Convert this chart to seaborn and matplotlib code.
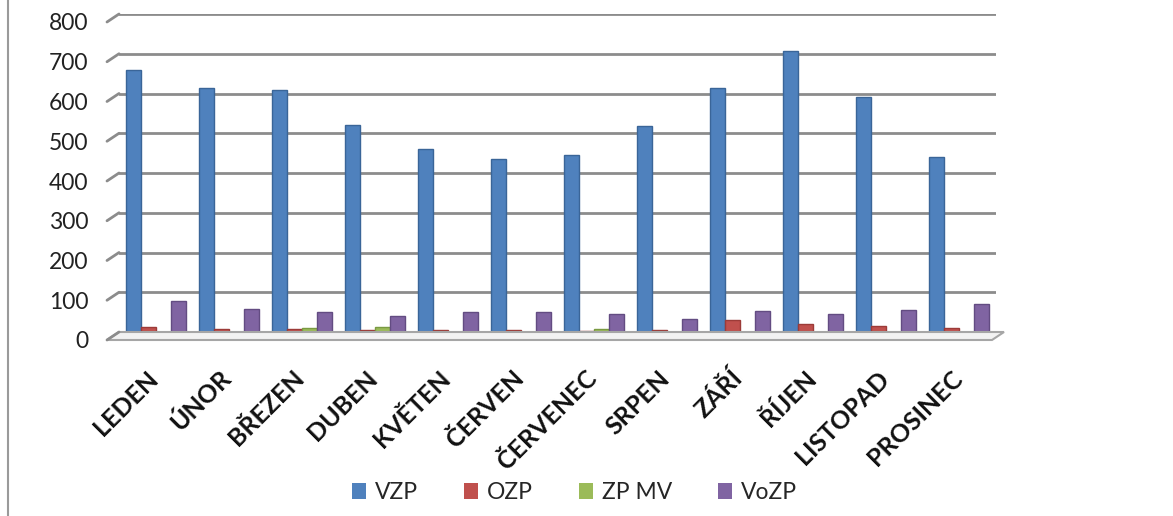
import matplotlib
matplotlib.use("Agg")
import matplotlib.pyplot as plt
import matplotlib.transforms as mtrans
import seaborn as sns
import pandas as pd
from matplotlib.patches import Patch, Polygon
from matplotlib.lines import Line2D

months = ["LEDEN", "ÚNOR", "BŘEZEN", "DUBEN", "KVĚTEN", "ČERVEN",
          "ČERVENEC", "SRPEN", "ZÁŘÍ", "ŘÍJEN", "LISTOPAD", "PROSINEC"]
series = ["VZP", "OZP", "ZP MV", "VoZP"]
vzp  = [660, 615, 610, 520, 460, 435, 446, 517, 613, 708, 590, 440]
ozp  = [12, 8, 8, 4, 4, 4, 3, 4, 29, 20, 16, 11]
zpmv = [1, 1, 10, 12, 1, 1, 8, 1, 1, 1, 1, 1]
vozp = [78, 58, 50, 40, 50, 50, 46, 33, 53, 46, 56, 71]
colors = ["#4F81BD", "#C0504D", "#9BBB59", "#8064A2"]
edge_colors = ["#3A6598", "#9C3B38", "#7A9A42", "#634C82"]
yticks = [0, 100, 200, 300, 400, 500, 600, 700, 800]

df = pd.DataFrame({
    "month": months * 4,
    "series": [s for s in series for _ in months],
    "value": vzp + ozp + zpmv + vozp,
})

sns.set_theme(style="white")
plt.rcParams["font.family"] = ["Lato", "DejaVu Sans"]

fig = plt.figure(figsize=(11.73, 5.16), dpi=100)
ax = fig.add_axes([119 / 1173, 1 - 332 / 516, (996 - 119) / 1173, (332 - 14) / 516])


def px(dx, dy):
    return mtrans.ScaledTranslation(dx / 100, dy / 100, fig.dpi_scale_trans)


sns.barplot(data=df, x="month", y="value", hue="series", order=months,
            hue_order=series, palette=colors, width=0.82, ax=ax,
            legend=False, saturation=1)

for i, cont in enumerate(ax.containers):
    for bar in cont:
        bar.set_edgecolor(edge_colors[i])
        bar.set_linewidth(1.0)
        bar.set_zorder(3)

ax.set_xlim(-0.5, 11.5)
ax.set_ylim(0, 800)
ax.set_yticks(yticks)
ax.set_yticklabels([str(v) for v in yticks], fontsize=16.5, color="#222222")
ax.yaxis.grid(True, color="#8C8C8C", linewidth=2.0, zorder=0)
ax.set_axisbelow(True)
ax.tick_params(axis="y", length=0, pad=22)
ax.tick_params(axis="x", length=0, pad=40)
ax.set_xlabel("")
ax.set_ylabel("")
for s in ["top", "right", "left", "bottom"]:
    ax.spines[s].set_visible(False)

ax.set_xticks(range(len(months)))
ax.set_xticklabels(months, rotation=45, ha="right", va="center",
                   rotation_mode="anchor", fontsize=18, fontweight="bold",
                   color="#111111")
for lab in ax.get_xticklabels():
    lab.set_transform(lab.get_transform() + px(-1, 13))
for lab in ax.get_yticklabels():
    lab.set_transform(lab.get_transform() + px(0, -8))

# floor parallelogram and 3D-style stubs at the left end of gridlines
fig.canvas.draw()
bb = ax.get_window_extent()
x0, y0, x1 = bb.x0, bb.y0, bb.x1
floor_pts = [[x0, y0], [x1 + 8, y0], [x1 - 4, y0 - 8], [x0 - 12, y0 - 8]]
fig.add_artist(Polygon(floor_pts, closed=True, transform=None,
                       facecolor="#F2F2F2", edgecolor="#A6A6A6", linewidth=1.5,
                       zorder=0.5))
for v in yticks:
    yy = ax.transData.transform((0, v))[1]
    fig.add_artist(Line2D([x0 - 12, x0], [yy - 8, yy], transform=None,
                          color="#8C8C8C", linewidth=2.0))

# left frame line of the chart area
fig.add_artist(Line2D([8 / 1173, 8 / 1173], [0, 1], transform=fig.transFigure,
                      color="#9A9A9A", linewidth=1.5))

handles = [Patch(facecolor=c, edgecolor="none", label=s) for c, s in zip(colors, series)]
fig.legend(handles=handles, loc="lower center", bbox_to_anchor=(0.49, -0.015),
           ncol=4, frameon=False, fontsize=16.5, handlelength=0.6,
           handleheight=0.7, handletextpad=0.4, columnspacing=2.0)

fig.savefig("out.png", dpi=100, facecolor="white")
